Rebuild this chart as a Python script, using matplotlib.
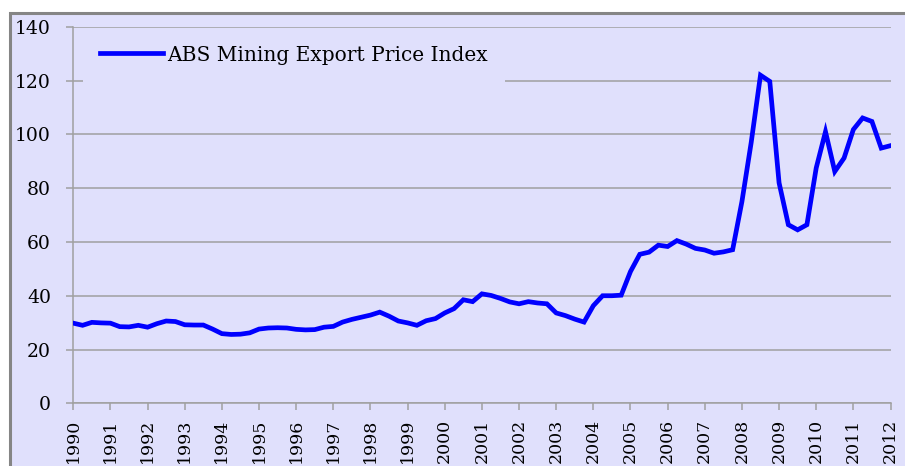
import numpy as np
import matplotlib
matplotlib.use("Agg")
import matplotlib.pyplot as plt
from matplotlib.patches import Rectangle

series_name = "ABS Mining Export Price Index"
start_year = 1990
year_ticks = list(range(1990, 2013))
y_ticks = [0, 20, 40, 60, 80, 100, 120, 140]

# quarterly values, 1990 Q1 .. 2012 Q1
values = [
    29.8, 29.0, 30.1, 29.9,   # 1990
    29.8, 28.5, 28.4, 29.0,   # 1991
    28.3, 29.6, 30.6, 30.4,   # 1992
    29.2, 29.1, 29.1, 27.6,   # 1993
    25.9, 25.6, 25.7, 26.2,   # 1994
    27.6, 28.0, 28.1, 28.0,   # 1995
    27.5, 27.3, 27.4, 28.3,   # 1996
    28.6, 30.2, 31.2, 32.0,   # 1997
    32.8, 33.9, 32.4, 30.6,   # 1998
    29.9, 29.0, 30.7, 31.5,   # 1999
    33.6, 35.2, 38.5, 37.8,   # 2000
    40.7, 40.1, 39.0, 37.7,   # 2001
    37.0, 37.8, 37.3, 37.0,   # 2002
    33.6, 32.6, 31.3, 30.2,   # 2003
    36.3, 40.0, 40.0, 40.2,   # 2004
    49.0, 55.4, 56.2, 58.8,   # 2005
    58.3, 60.5, 59.2, 57.6,   # 2006
    57.0, 55.8, 56.3, 57.1,   # 2007
    75.0, 97.0, 122.0, 119.7, # 2008
    82.0, 66.4, 64.5, 66.4,   # 2009
    87.5, 101.0, 86.2, 91.2,  # 2010
    101.8, 106.1, 104.8, 94.9,# 2011
    95.8,                     # 2012
]

bg = "#E0E0FC"
grid_c = "#A0A0A0"
font = ["DejaVu Serif"]

W, H = 905, 466
fig = plt.figure(figsize=(W / 100, H / 100), dpi=100)
fig.patch.set_facecolor("white")
frame = Rectangle((9.5 / W, -0.1), 1.2, 1 - 13 / H + 0.1, transform=fig.transFigure,
                  facecolor=bg, edgecolor="#858585", linewidth=2.2, zorder=-10)
fig.patches.append(frame)

ax = fig.add_axes([73.3 / W, 1 - 403.3 / H, (890.5 - 73.3) / W, (403.3 - 26.8) / H])
ax.set_zorder(1)
ax.set_facecolor(bg)

x = start_year + np.arange(len(values)) / 4.0
ax.plot(x, values, color="#0000FF", linewidth=3.4, solid_joinstyle="miter",
        label=series_name, zorder=3)

ax.set_xlim(1990, 2012)
ax.set_ylim(0, 140)
ax.set_yticks(y_ticks)
ax.set_yticklabels([str(v) for v in y_ticks], fontfamily=font, fontsize=13.5)
ax.set_xticks(year_ticks)
ax.set_xticklabels([str(v) for v in year_ticks], rotation=90, fontfamily=font,
                   fontsize=12.5, va="top", ha="center")

ax.grid(axis="y", color=grid_c, linewidth=1.1, zorder=1)
ax.set_axisbelow(True)
for s in ["top", "right"]:
    ax.spines[s].set_visible(False)
for s in ["left", "bottom"]:
    ax.spines[s].set_color(grid_c)
    ax.spines[s].set_linewidth(1.1)
ax.tick_params(axis="both", direction="out", length=5, width=1.1, color=grid_c,
               labelcolor="black")
ax.tick_params(axis="y", pad=11)
ax.tick_params(axis="x", pad=6)

leg = ax.legend(loc="center left", bbox_to_anchor=(0.0119, 0.925), frameon=True,
                fancybox=False, facecolor=bg, edgecolor=bg, framealpha=1,
                prop={"family": font, "size": 14.5}, handlelength=3.1,
                handletextpad=0.25, borderaxespad=0.0, borderpad=0.85)
leg.get_frame().set_linewidth(0)

fig.savefig("out.png", dpi=100, facecolor=fig.get_facecolor())
